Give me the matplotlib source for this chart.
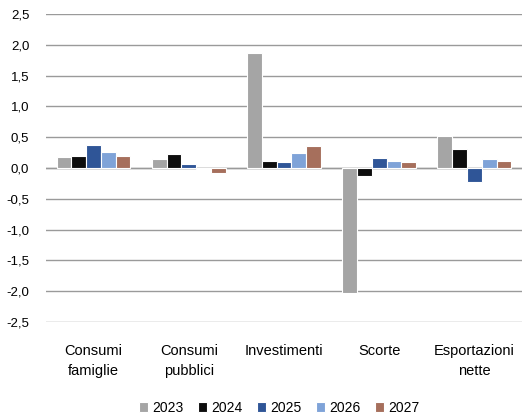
import numpy as np
import matplotlib
matplotlib.use("Agg")
import matplotlib.pyplot as plt
from matplotlib.ticker import FuncFormatter

plt.rcParams['font.family'] = ['Liberation Sans', 'DejaVu Sans']

categories = ['Consumi\nfamiglie', 'Consumi\npubblici', 'Investimenti', 'Scorte', 'Esportazioni\nnette']
years = ['2023', '2024', '2025', '2026', '2027']
v2023 = [0.18, 0.15, 1.87, -2.03, 0.52]
v2024 = [0.20, 0.22, 0.11, -0.13, 0.31]
v2025 = [0.38, 0.07, 0.10, 0.17, -0.22]
v2026 = [0.26, -0.02, 0.24, 0.11, 0.15]
v2027 = [0.20, -0.08, 0.35, 0.09, 0.12]
series = [v2023, v2024, v2025, v2026, v2027]
colors = ['#A5A5A5', '#0D0D0D', '#2F5597', '#7FA3D8', '#A66F5C']

fig = plt.figure(figsize=(5.22, 4.19), dpi=100)
ax = fig.add_axes([0.088, 0.2315, 0.912, 0.735])

x = np.arange(len(categories))
w = 0.155
for i, (vals, c, yr) in enumerate(zip(series, colors, years)):
    ax.bar(x + (i - 2) * w, vals, w, color=c, edgecolor='white', linewidth=0.8, label=yr, zorder=3)

ax.set_xlim(-0.5, 4.5)
ax.set_ylim(-2.5, 2.5)
ax.set_yticks(np.arange(-2.5, 2.51, 0.5))
ax.yaxis.set_major_formatter(FuncFormatter(lambda v, p: f"{v:.1f}".replace('.', ',')))
ax.grid(axis='y', color='#9A9A9A', linewidth=1, zorder=0)
ax.axhline(0, color='#9A9A9A', linewidth=1, zorder=2)
for s in ax.spines.values():
    s.set_visible(False)
ax.tick_params(axis='y', length=0, pad=12, labelsize=9.5)
ax.set_xticks(x)
ax.set_xticklabels(categories, fontsize=10.5, va='top', ha='center', multialignment='center',
                   linespacing=1.5)
ax.tick_params(axis='x', length=0, pad=16)

ax.legend(loc='upper center', bbox_to_anchor=(0.49, -0.215), ncol=5, frameon=False,
          fontsize=10, handlelength=0.7, handleheight=0.7, handletextpad=0.3, columnspacing=1.0)

fig.savefig('out.png', dpi=100)
